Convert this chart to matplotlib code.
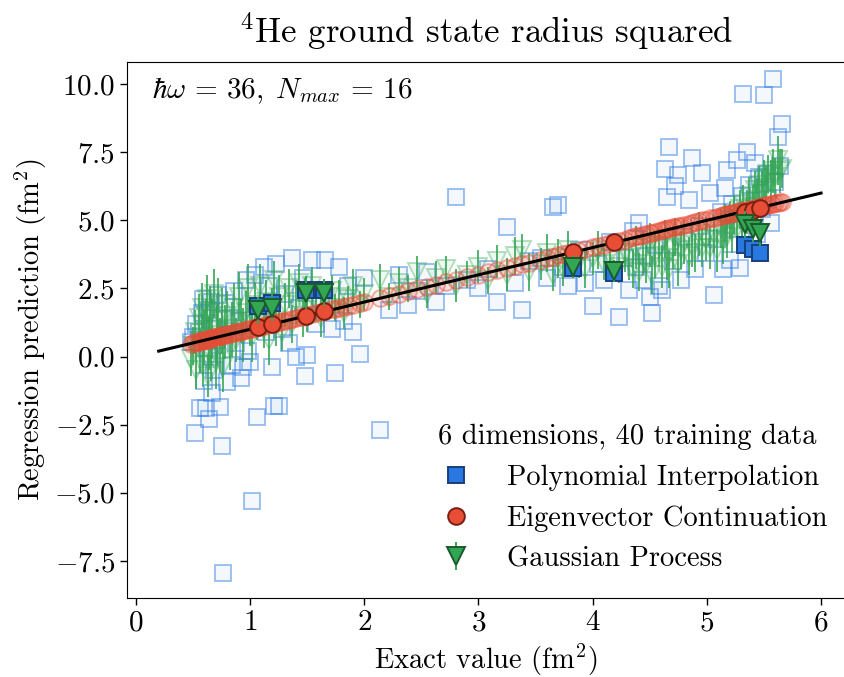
import matplotlib
matplotlib.use("Agg")
import matplotlib.pyplot as plt
import numpy as np

plt.rcParams["font.family"] = "serif"
plt.rcParams["font.serif"] = ["cmr10"]
plt.rcParams["mathtext.fontset"] = "cm"
plt.rcParams["axes.formatter.use_mathtext"] = True

# test points: exact value and the three regression predictions
exact = [
    0.48, 0.50, 0.52, 0.53, 0.55, 0.56, 0.58, 0.59, 0.60, 0.61, 0.62, 0.63,
    0.64, 0.65, 0.66, 0.67, 0.68, 0.70, 0.71, 0.72, 0.74, 0.75, 0.76, 0.78,
    0.80, 0.82, 0.84, 0.86, 0.88, 0.90, 0.92, 0.94, 0.96, 0.98, 1.00, 1.02,
    1.04, 1.06, 1.09, 1.12, 1.14, 1.17, 1.19, 1.21, 1.23, 1.25, 1.28, 1.31,
    1.34, 1.37, 1.40, 1.43, 1.46, 1.48, 1.50, 1.54, 1.58, 1.62, 1.66, 1.72,
    1.74, 1.78, 1.82, 1.86, 1.90, 1.96, 2.00, 2.14, 2.22, 2.30, 2.38, 2.46,
    2.55, 2.63, 2.72, 2.80, 2.90, 3.00, 3.08, 3.16, 3.25, 3.32, 3.38, 3.44,
    3.55, 3.60, 3.65, 3.70, 3.74, 3.78, 3.88, 3.93, 4.00, 4.05, 4.10, 4.15,
    4.23, 4.28, 4.32, 4.35, 4.38, 4.41, 4.44, 4.47, 4.50, 4.52, 4.55, 4.58,
    4.61, 4.63, 4.65, 4.67, 4.70, 4.72, 4.75, 4.77, 4.80, 4.84, 4.87, 4.90,
    4.93, 4.96, 4.99, 5.03, 5.06, 5.09, 5.12, 5.14, 5.16, 5.18, 5.20, 5.22,
    5.24, 5.26, 5.29, 5.31, 5.32, 5.35, 5.37, 5.40, 5.42, 5.44, 5.46, 5.48,
    5.50, 5.52, 5.54, 5.56, 5.58, 5.60, 5.62, 5.64, 5.66,
]
polyPred = [
    0.55, 0.70, -2.80, 1.20, 0.90, -1.90, 1.60, 2.10, -0.90, -1.90, 0.30, 1.70,
    -2.30, 0.00, 2.00, -1.35, -0.50, 1.00, 0.60, 2.25, -1.85, -3.30, -7.95, 1.95,
    -0.95, 1.40, -0.30, 2.40, 0.50, 1.30, -0.80, -0.40, 2.80, 0.20, -0.20, -5.30,
    3.00, -2.20, 1.40, 3.30, 0.90, 2.60, -0.40, -1.80, 3.40, -1.80, 1.00, 2.30,
    0.50, 3.60, 0.00, 1.80, 2.90, -0.70, 0.05, 3.55, 1.20, 2.10, 3.55, 1.00,
    -0.60, 3.30, 1.30, 2.60, 0.90, 0.10, 2.90, -2.70, 1.70, 3.00, 1.90, 2.40,
    3.10, 2.00, 2.60, 5.85, 2.80, 2.50, 3.20, 2.00, 4.75, 2.70, 1.70, 3.50,
    3.60, 2.90, 5.50, 5.56, 3.30, 2.60, 3.90, 2.70, 1.85, 3.40, 2.80, 4.20,
    1.45, 3.60, 2.45, 4.60, 3.30, 4.90, 2.80, 3.70, 2.20, 1.60, 4.10, 2.60,
    2.45, 6.90, 5.85, 7.70, 3.50, 6.25, 6.65, 2.80, 4.40, 5.75, 7.30, 3.20,
    4.80, 6.75, 3.80, 6.00, 2.25, 4.30, 5.30, 3.20, 6.20, 6.85, 3.55, 5.60,
    4.70, 7.20, 3.25, 5.90, 9.65, 7.50, 6.30, 5.00, 7.10, 4.50, 6.60, 5.40,
    9.60, 6.70, 5.80, 4.90, 10.20, 6.40, 8.05, 7.00, 8.55,
]
ecPred = [
    0.45, 0.50, 0.52, 0.50, 0.55, 0.57, 0.58, 0.60, 0.60, 0.62, 0.63, 0.62,
    0.66, 0.65, 0.67, 0.68, 0.70, 0.71, 0.72, 0.74, 0.75, 0.76, 0.78, 0.80,
    0.82, 0.84, 0.85, 0.88, 0.90, 0.92, 0.93, 0.95, 0.98, 1.00, 1.01, 1.03,
    1.05, 1.07, 1.10, 1.14, 1.15, 1.19, 1.20, 1.22, 1.25, 1.27, 1.30, 1.32,
    1.35, 1.38, 1.41, 1.44, 1.47, 1.49, 1.51, 1.55, 1.59, 1.63, 1.67, 1.73,
    1.75, 1.79, 1.83, 1.87, 1.91, 1.97, 2.01, 2.15, 2.23, 2.31, 2.39, 2.47,
    2.56, 2.64, 2.73, 2.81, 2.91, 3.01, 3.09, 3.17, 3.26, 3.33, 3.39, 3.45,
    3.56, 3.61, 3.66, 3.71, 3.75, 3.79, 3.89, 3.94, 4.01, 4.06, 4.11, 4.16,
    4.24, 4.29, 4.35, 4.38, 4.41, 4.44, 4.47, 4.50, 4.53, 4.55, 4.58, 4.61,
    4.64, 4.67, 4.69, 4.71, 4.74, 4.76, 4.79, 4.81, 4.84, 4.88, 4.91, 4.94,
    4.97, 5.00, 5.03, 5.07, 5.10, 5.13, 5.16, 5.18, 5.20, 5.22, 5.24, 5.26,
    5.28, 5.30, 5.33, 5.35, 5.36, 5.38, 5.40, 5.43, 5.45, 5.47, 5.49, 5.51,
    5.53, 5.55, 5.57, 5.59, 5.61, 5.63, 5.65, 5.67, 5.69,
]
gpPred = [
    -0.10, 0.40, 0.90, -0.50, 1.40, 0.20, 1.80, -0.30, 0.70, 1.20, 2.10, -0.70,
    0.50, 1.60, 0.00, 1.00, 2.30, -0.20, 0.80, 1.90, 0.40, 1.30, -0.40, 0.90,
    1.50, 0.30, 1.00, 1.80, 0.60, 2.20, 1.30, 0.80, 1.60, 2.50, 1.20, 0.70,
    1.90, 1.40, 2.60, 1.00, 2.00, 0.60, 1.70, 2.80, 1.30, 2.20, 0.90, 1.90,
    2.50, 1.20, 2.00, 2.70, 1.50, 2.20, 1.70, 2.60, 1.90, 1.40, 2.10, 2.40,
    1.80, 2.20, 1.60, 2.10, 2.60, 1.90, 2.30, 2.80, 2.20, 2.70, 2.50, 3.10,
    2.30, 2.90, 3.20, 2.60, 3.00, 3.30, 2.80, 3.50, 3.00, 3.70, 3.90, 3.10,
    3.40, 3.80, 3.00, 3.60, 3.20, 3.90, 3.50, 3.20, 3.60, 3.90, 3.40, 3.70,
    3.30, 3.80, 3.60, 3.20, 4.00, 3.10, 3.80, 3.40, 4.10, 3.00, 3.70, 4.00,
    3.30, 4.30, 3.60, 3.20, 4.00, 4.40, 3.40, 3.90, 4.20, 3.70, 4.10, 3.80,
    4.50, 4.00, 4.30, 4.00, 4.50, 3.90, 4.70, 4.20, 4.90, 4.40, 5.00, 4.60,
    5.20, 4.70, 5.40, 4.90, 5.60, 5.30, 5.90, 5.50, 6.10, 5.70, 6.30, 6.00,
    6.50, 6.20, 6.70, 6.40, 6.80, 6.60, 7.20, 6.80, 6.90,
]
gpErr = [
    0.60, 0.70, 0.80, 0.70, 0.90, 0.80, 0.90, 0.80, 1.00, 0.90, 0.90, 0.80,
    1.00, 1.00, 0.90, 1.10, 0.90, 1.00, 1.10, 1.00, 1.00, 1.20, 0.90, 1.00,
    0.90, 0.80, 1.00, 0.90, 0.80, 0.90, 0.80, 1.00, 0.80, 0.90, 0.80, 0.90,
    0.80, 0.80, 0.80, 0.70, 0.80, 0.90, 0.80, 0.70, 0.90, 0.80, 0.70, 0.80,
    0.70, 0.70, 0.80, 0.70, 0.80, 0.70, 0.80, 0.70, 0.60, 0.70, 0.60, 0.60,
    0.50, 0.60, 0.60, 0.50, 0.60, 0.50, 0.60, 0.60, 0.50, 0.60, 0.50, 0.60,
    0.50, 0.60, 0.50, 0.60, 0.50, 0.60, 0.50, 0.60, 0.60, 0.70, 0.60, 0.70,
    0.60, 0.70, 0.60, 0.70, 0.60, 0.70, 0.60, 0.70, 0.60, 0.70, 0.60, 0.70,
    0.60, 0.70, 0.80, 0.70, 0.80, 0.70, 0.80, 0.70, 0.80, 0.70, 0.80, 0.70,
    0.80, 0.70, 0.80, 0.70, 0.80, 0.70, 0.80, 0.70, 0.80, 0.70, 0.80, 0.70,
    0.80, 0.70, 0.80, 0.80, 0.70, 0.80, 0.70, 0.80, 0.70, 0.80, 0.70, 0.80,
    0.70, 0.80, 0.70, 0.80, 0.70, 0.80, 0.70, 0.80, 0.70, 0.80, 0.70, 0.80,
    0.70, 0.80, 0.70, 0.80, 0.80, 0.70, 0.90, 0.80, 0.70,
]

# highlighted points drawn with solid markers
exactSel = [1.07, 1.19, 1.49, 1.65, 3.83, 4.19, 5.33, 5.40, 5.47]
polySel = [1.85, 1.95, 2.45, 2.45, 3.25, 3.05, 4.10, 3.95, 3.80]
ecSel = [1.10, 1.18, 1.50, 1.66, 3.83, 4.20, 5.30, 5.38, 5.45]
gpSel = [1.70, 1.80, 2.35, 2.35, 3.30, 3.15, 4.85, 4.70, 4.55]
gpSelErr = [0.50, 0.50, 0.60, 0.50, 0.40, 0.40, 0.50, 0.50, 0.50]

bleu = (0.16, 0.47, 0.88)
rouge = (0.91, 0.30, 0.21)
vert = (0.20, 0.65, 0.33)

fig = plt.figure(figsize=(8.45, 6.77), dpi=100)
axe = fig.add_axes([0.150, 0.1167, 0.850, 0.7917])

axe.plot(exact, polyPred, "s", ms=12, mfc=bleu + (0.05,), mec=bleu + (0.45,), mew=1.4, zorder=2)
axe.errorbar(
    exact, gpPred, yerr=gpErr, fmt="v", ms=13,
    mfc=vert + (0.08,), mec=vert + (0.35,), mew=1.4,
    ecolor=vert + (0.85,), elinewidth=1.4, capsize=0, zorder=3,
)
axe.plot(exact, ecPred, "o", ms=12, mfc=rouge + (0.12,), mec=rouge + (0.45,), mew=1.4, zorder=4)

axe.plot([0.2, 6.0], [0.2, 6.0], color="black", linewidth=2.2, zorder=5)

carres, = axe.plot(exactSel, polySel, "s", ms=12, mfc=bleu, mec="#173f7a", mew=1.4, zorder=6)
cercles, = axe.plot(exactSel, ecSel, "o", ms=12, mfc=rouge, mec="#7a1f12", mew=1.4, zorder=7)
triangles = axe.errorbar(
    exactSel, gpSel, yerr=gpSelErr, fmt="v", ms=13,
    mfc=vert, mec="#1a5a2a", mew=1.4,
    ecolor=vert, elinewidth=1.4, capsize=0, zorder=8,
)

axe.text(0.035, 0.975, r"$\hbar\omega\, =\, 36,\; N_{max}\, =\, 16$",
         transform=axe.transAxes, fontsize=21, va="top", ha="left")

axe.legend(
    [carres, cercles, triangles],
    ["Polynomial Interpolation", "Eigenvector Continuation", "Gaussian Process"],
    title="6 dimensions, 40 training data",
    loc="lower right", bbox_to_anchor=(1.003, 0.011), frameon=False,
    fontsize=20.5, title_fontsize=20.5, borderaxespad=0.3,
)

axe.set_xlim(-0.08, 6.21)
axe.set_ylim(-8.86, 10.81)
axe.set_yticks([-7.5, -5.0, -2.5, 0.0, 2.5, 5.0, 7.5, 10.0])
axe.set_xticks([0, 1, 2, 3, 4, 5, 6])
axe.tick_params(labelsize=21, length=5, width=1)
axe.set_xlabel(r"Exact value (fm$^2$)", fontsize=20.5)
axe.set_ylabel(r"Regression prediction (fm$^2$)", fontsize=20.5)
axe.set_title(r"$^4$He ground state radius squared", fontsize=25, pad=14)

fig.savefig("out.png", dpi=100)
